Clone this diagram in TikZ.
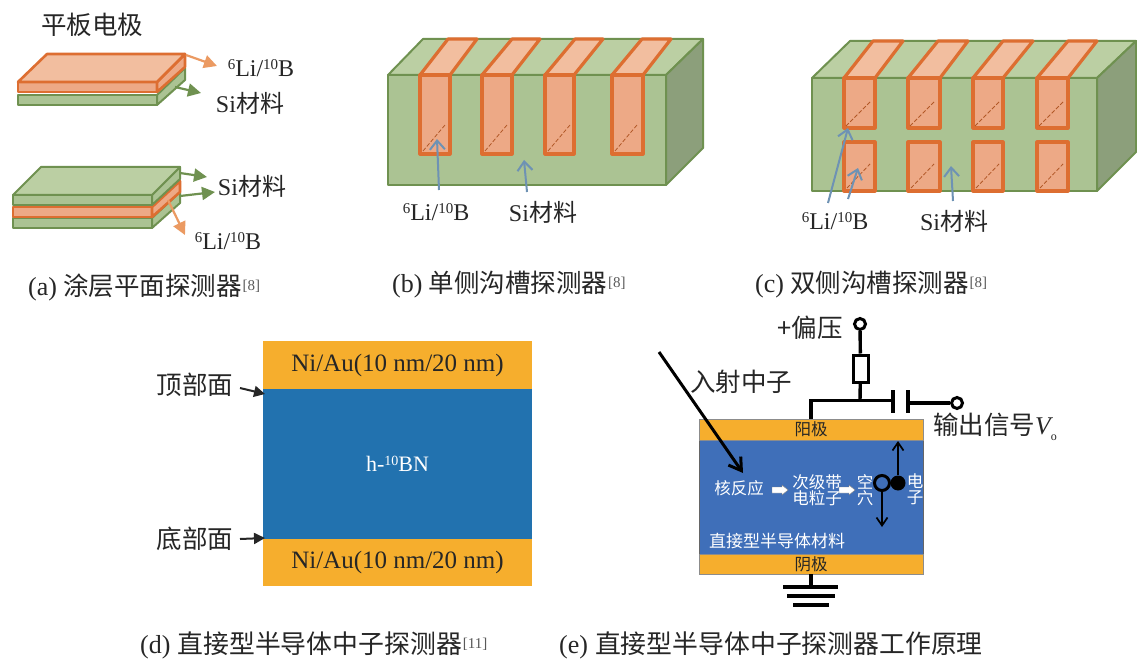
\documentclass[tikz,border=0pt]{standalone}
\usepackage{fontspec}
\setmainfont{Liberation Serif}
\newfontfamily\cjk{Noto Sans CJK SC}
\usetikzlibrary{arrows.meta}
\definecolor{gfront}{HTML}{ABC393}
\definecolor{gtop}{HTML}{BBCFA3}
\definecolor{gside}{HTML}{8C9F7B}
\definecolor{gline}{HTML}{6F9150}
\definecolor{ofront}{HTML}{EDA986}
\definecolor{otop}{HTML}{F2BE9F}
\definecolor{oline}{HTML}{DD6E31}
\definecolor{arrowblue}{HTML}{6E92B4}
\definecolor{arrowgreen}{HTML}{6F9150}
\definecolor{arroworange}{HTML}{EB9A62}
\definecolor{gold}{HTML}{F6AE2D}
\definecolor{dblue}{HTML}{2272AF}
\definecolor{eblue}{HTML}{3F6FB9}
\definecolor{ink}{HTML}{262626}
\newcommand{\LiB}{\raisebox{6.5pt}{\fontsize{15}{15}\selectfont 6}Li/\raisebox{6.5pt}{\fontsize{15}{15}\selectfont 10}B}
\newcommand{\RefMark}[1]{\hspace{1pt}\raisebox{5pt}{\fontsize{15}{15}\selectfont\color{black!65}[#1]}}
\newcommand{\CapText}[2]{{\fontsize{26}{28}\selectfont #1}\hspace{6pt}{\fontsize{25.5}{28}\selectfont\cjk #2}}
\newcommand{\CapWide}[2]{{\fontsize{26}{28}\selectfont #1}\hspace{7pt}{\fontsize{25.85}{28}\selectfont\cjk #2}}
\tikzset{
  x=1pt,y=-1pt,
  lab/.style={text=ink,font=\fontsize{24}{26}\selectfont,inner sep=0pt},
  biglab/.style={text=ink,font=\fontsize{25.5}{28}\selectfont\cjk,inner sep=0pt},
  captext/.style={text=ink,inner sep=0pt,anchor=west},
  smalltext/.style={text=white,font=\fontsize{16.5}{16.5}\selectfont\cjk,inner sep=0pt,align=center},
  gface/.style={draw=gline,line width=2pt,line join=round},
  oface/.style={draw=oline,line width=3.2pt,line join=round},
  bluearrow/.style={draw=arrowblue,line width=2pt,-{Straight Barb[length=9pt,width=15pt,line width=2pt]}},
  greenarrow/.style={draw=arrowgreen,line width=2.2pt,-{Triangle[length=13pt,width=13pt]}},
  orangearrow/.style={draw=arroworange,line width=2.2pt,-{Triangle[length=13pt,width=13pt]}},
  wire/.style={draw=black,line width=3.4pt},
  thinarrow/.style={draw=black,line width=1.7pt,-{Straight Barb[length=8pt,width=11pt,line width=1.7pt]}},
  darrow/.style={draw=ink,line width=2pt,-{Triangle[length=11pt,width=11pt]}},
  dashdiag/.style={draw=oline!80!black,line width=.8pt,dash pattern=on 4pt off 2pt},
  whitearrow/.style={draw=black!50,fill=white,line width=.4pt},
}
\begin{document}
\begin{tikzpicture}
\useasboundingbox (0,0) rectangle (1137,663);
\fill[white] (0,0) rectangle (1137,663);
% ---------- (a)
\node[biglab] (tp) at (92,25) {平板电极};
\draw[gface,fill=gfront] (18,95) rectangle (157,105);
\draw[gface,fill=gfront] (157,95)--(185,68)--(185,80)--(157,105)--cycle;
\draw[oface,line width=2.6pt,fill=ofront] (18,82) rectangle (157,92);
\draw[oface,line width=2.6pt,fill=ofront] (157,82)--(185,54)--(185,67)--(157,92)--cycle;
\draw[oface,line width=2.6pt,fill=otop] (18,82)--(47,54)--(185,54)--(157,82)--cycle;
\coordinate (a1s) at (186,55); \coordinate (a1e) at (217,66);
\draw[orangearrow] (a1s)--(a1e);
\coordinate (a2s) at (175,87); \coordinate (a2e) at (201,93);
\draw[greenarrow] (a2s)--(a2e);
\node[lab] (a1) at (261,68) {\LiB};
\node[lab] (a2) at (250,103) {Si\cjk 材料};
% lower stack
\draw[gface,fill=gfront] (13,218) rectangle (152,228);
\draw[gface,fill=gfront] (152,218)--(180,192)--(180,203)--(152,228)--cycle;
\draw[oface,line width=2.6pt,fill=ofront] (13,207) rectangle (152,217);
\draw[oface,line width=2.6pt,fill=ofront] (152,207)--(180,181)--(180,192)--(152,217)--cycle;
\draw[gface,fill=gfront] (13,195) rectangle (152,205);
\draw[gface,fill=gfront] (152,195)--(180,167)--(180,179)--(152,205)--cycle;
\draw[gface,fill=gtop] (13,195)--(41,167)--(180,167)--(152,195)--cycle;
\coordinate (a3s) at (180,173); \coordinate (a3e) at (207,177);
\draw[greenarrow] (a3s)--(a3e);
\coordinate (a4s) at (180,196); \coordinate (a4e) at (215,192);
\draw[greenarrow] (a4s)--(a4e);
\coordinate (a5s) at (168,200); \coordinate (a5e) at (185,235);
\draw[orangearrow] (a5s)--(a5e);
\node[lab] (a3) at (252,186) {Si\cjk 材料};
\node[lab] (a5) at (228,241) {\LiB};
\node[captext] (capa) at (28,287) {\CapText{(a)}{涂层平面探测器}\RefMark{8}};
% ---------- (b)
\draw[gface,fill=gtop] (388,75)--(423,39)--(703,39)--(666,75)--cycle;
\draw[gface,fill=gside] (666,75)--(703,39)--(703,148)--(666,185)--cycle;
\draw[gface,fill=gfront] (388,75) rectangle (666,185);
\foreach \a/\b/\c/\d in {420/450/448/477,482/512/512/540,545/574/575/603,612/643/642/671}{
  \draw[oface,fill=otop] (\a,75)--(\c,39)--(\d,39)--(\b,75)--cycle;
  \draw[oface,fill=ofront] (\a,75) rectangle (\b,154);
  \draw[dashdiag] (\a+3,151)--(\a+25,125);
}
\coordinate (b1s) at (439,190); \coordinate (b1e) at (437,139);
\coordinate (b2s) at (527,192); \coordinate (b2e) at (524,160);
\draw[bluearrow] (b1s)--(b1e);
\draw[bluearrow] (b2s)--(b2e);
\node[lab] (b1) at (436,212) {\LiB};
\node[lab] (b2) at (543,212) {Si\cjk 材料};
\node[captext] (capb) at (392,285) {\CapText{(b)}{单侧沟槽探测器}\RefMark{8}};
% ---------- (c)
\draw[gface,fill=gtop] (812,78)--(850,41)--(1136,41)--(1097,78)--cycle;
\draw[gface,fill=gside] (1097,78)--(1136,41)--(1136,152)--(1097,191)--cycle;
\draw[gface,fill=gfront] (812,78) rectangle (1097,191);
\foreach \a/\b/\c/\d in {844/875/873/903,908/940/938/968,973/1003/1003/1033,1037/1068/1068/1097}{
  \draw[oface,fill=otop] (\a,78)--(\c,41)--(\d,41)--(\b,78)--cycle;
  \draw[oface,fill=ofront] (\a,78) rectangle (\b,128);
  \draw[oface,fill=ofront] (\a,142) rectangle (\b,191);
  \draw[dashdiag] (\a+2,126)--(\a+26,102);
  \draw[dashdiag] (\a+3,188)--(\a+26,164);
}
\coordinate (c1s) at (828,203); \coordinate (c1e) at (848,128);
\coordinate (c2s) at (848,199); \coordinate (c2e) at (858,168);
\coordinate (c3s) at (953,201); \coordinate (c3e) at (951,166);
\draw[bluearrow] (c1s)--(c1e);
\draw[bluearrow] (c2s)--(c2e);
\draw[bluearrow] (c3s)--(c3e);
\node[lab] (c1) at (835,221) {\LiB};
\node[lab] (c2) at (954,221) {Si\cjk 材料};
\node[captext] (capc) at (755,285) {\CapText{(c)}{双侧沟槽探测器}\RefMark{8}};
% ---------- (d)
\node[fill=dblue,minimum width=269pt,minimum height=150pt,inner sep=0pt,text=white,font=\fontsize{22}{24}\selectfont] (dcore) at (397.5,464) {h-\raisebox{6pt}{\fontsize{14}{14}\selectfont 10}BN};
\node[fill=gold,minimum width=269pt,minimum height=48pt,inner sep=0pt,text=ink,font=\fontsize{25}{27}\selectfont] (dtop) at (397.5,365) {Ni/Au(10 nm/20 nm)};
\node[fill=gold,minimum width=269pt,minimum height=47pt,inner sep=0pt,text=ink,font=\fontsize{25}{27}\selectfont] (dbot) at (397.5,562.5) {Ni/Au(10 nm/20 nm)};
\node[biglab] (dl1) at (195,385) {顶部面};
\node[biglab] (dl2) at (195,539) {底部面};
\coordinate (d1s) at (240,388); \coordinate (d1e) at (265,394);
\coordinate (d2s) at (240,539); \coordinate (d2e) at (265,538);
\draw[darrow] (d1s)--(d1e);
\draw[darrow] (d2s)--(d2e);
\node[captext] (capd) at (140,645) {\CapWide{(d)}{直接型半导体中子探测器}\RefMark{11}};
% ---------- (e)
\node[fill=eblue,draw=black!60,line width=.5pt,minimum width=224pt,minimum height=114pt,inner sep=0pt] (ecore) at (811,497) {};
\node[fill=gold,draw=black!45,line width=.5pt,minimum width=224pt,minimum height=21pt,inner sep=0pt,text=ink,font=\fontsize{16.5}{18}\selectfont\cjk] (anode) at (811,429.5) {阳极};
\node[fill=gold,draw=black!45,line width=.5pt,minimum width=224pt,minimum height=20pt,inner sep=0pt,text=ink,font=\fontsize{16.5}{18}\selectfont\cjk] (cathode) at (811,564) {阴极};
% circuit
\node[circle,draw=black,line width=3pt,fill=white,minimum size=11pt,inner sep=0pt] (bias) at (860,324) {};
\node[rectangle,draw=black,line width=3pt,fill=white,minimum width=15pt,minimum height=27pt,inner sep=0pt] (res) at (860.5,368.5) {};
\coordinate (junc) at (860,400.5);
\coordinate (wa) at (811,400.5);
\coordinate (cp1) at (893,400.5);
\coordinate (cp2) at (908,403);
\node[circle,draw=black,line width=3pt,fill=white,minimum size=11pt,inner sep=0pt] (outp) at (957,403) {};
\draw[wire] (bias)--(res);
\draw[wire] (res)--(junc);
\draw[wire] (anode.north -| wa)--(wa)--(cp1);
\draw[wire] (cp2)--(outp);
\coordinate (cp1t) at (893,390); \coordinate (cp1b) at (893,413);
\coordinate (cp2t) at (908,390); \coordinate (cp2b) at (908,413);
\draw[wire] (cp1t)--(cp1b);
\draw[wire] (cp2t)--(cp2b);
% ground
\coordinate (g0) at (811,587);
\draw[wire] (cathode.south -| g0)--(g0);
\coordinate (g1l) at (783,587); \coordinate (g1r) at (838,587);
\coordinate (g2l) at (787,596); \coordinate (g2r) at (835,596);
\coordinate (g3l) at (793,605); \coordinate (g3r) at (829,605);
\draw[wire] (g1l)--(g1r);
\draw[wire] (g2l)--(g2r);
\draw[wire] (g3l)--(g3r);
\node[biglab] (bl) at (810,328) {+偏压};
\node[biglab,anchor=west] (ol) at (933,427) {输出信号{\rmfamily\itshape V}\raisebox{-6pt}{\fontsize{12}{12}\selectfont\rmfamily o}};
% neutron
\node[biglab] (nl) at (741,382) {入射中子};
\coordinate (n0) at (659,352);
\coordinate (n1) at (743,473);
\draw[black,line width=3pt,-{Straight Barb[length=12pt,width=15pt,line width=3pt]}] (n0)--(n1);
% inside
\node[smalltext] (nr) at (739,488) {核反应};
\node[smalltext] (sec) at (817,490) {次级带\\电粒子};
\node[smalltext] (hole) at (865,490) {空\\穴};
\node[smalltext] (elec) at (915,489) {电\\子};
\node[smalltext,font=\fontsize{17}{18}\selectfont\cjk] (mat) at (777,541) {直接型半导体材料};
\draw[whitearrow] (772,487) -- (782,487) -- (782,485) -- (788,490) -- (782,495) -- (782,493) -- (772,493) -- cycle;
\draw[whitearrow] (839,487) -- (849,487) -- (849,485) -- (855,490) -- (849,495) -- (849,493) -- (839,493) -- cycle;
\node[circle,draw=black,line width=3pt,fill=eblue,minimum size=15pt,inner sep=0pt] (hc) at (882,483) {};
\node[circle,fill=black,minimum size=15pt,inner sep=0pt] (ec) at (898,483) {};
\coordinate (up) at (898,441); \coordinate (down) at (882,527);
\draw[thinarrow] (ec)--(up);
\draw[thinarrow] (hc)--(down);
\node[captext] (cape) at (559,645) {\CapWide{(e)}{直接型半导体中子探测器工作原理}};
\end{tikzpicture}
\end{document}
